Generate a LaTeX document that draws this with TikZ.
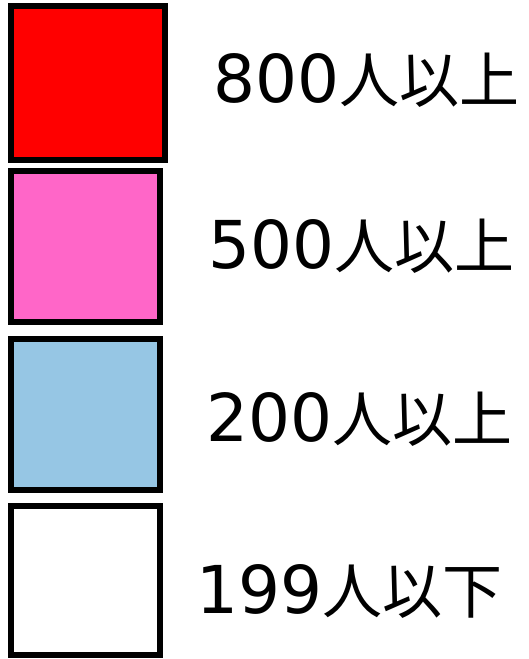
\documentclass[tikz,border=0pt]{standalone}
\usepackage{fontspec}
\setmainfont{DejaVu Sans}
\newfontfamily\cjkfont{Noto Sans CJK JP}
\definecolor{cRed}{HTML}{FF0000}
\definecolor{cPink}{HTML}{FF66C8}
\definecolor{cBlue}{HTML}{96C6E4}
\newcommand{\lgtext}[2]{{\fontsize{66}{70}\selectfont #1}{\cjkfont\fontsize{60}{64}\selectfont #2}}
\begin{document}
\begin{tikzpicture}[x=1pt,y=-1pt,
  swatch/.style={draw=black,line width=6pt},
  lbl/.style={anchor=base west,inner sep=0pt,text=black}]
\useasboundingbox (0,0) rectangle (528,659);
\fill[white] (0,0) rectangle (528,659);
\draw[swatch,fill=cRed] (11,6) rectangle (165,160);
\draw[swatch,fill=cPink] (11,171) rectangle (160,322);
\draw[swatch,fill=cBlue] (11,339) rectangle (160,490);
\draw[swatch,fill=white] (11,506) rectangle (160,655);
\node[lbl] (t1) at (213,102) {\lgtext{800}{人以上}};
\node[lbl] (t2) at (208,268) {\lgtext{500}{人以上}};
\node[lbl] (t3) at (206,441) {\lgtext{200}{人以上}};
\node[lbl] (t4) at (196,613) {\lgtext{199}{人以下}};
\end{tikzpicture}
\end{document}
